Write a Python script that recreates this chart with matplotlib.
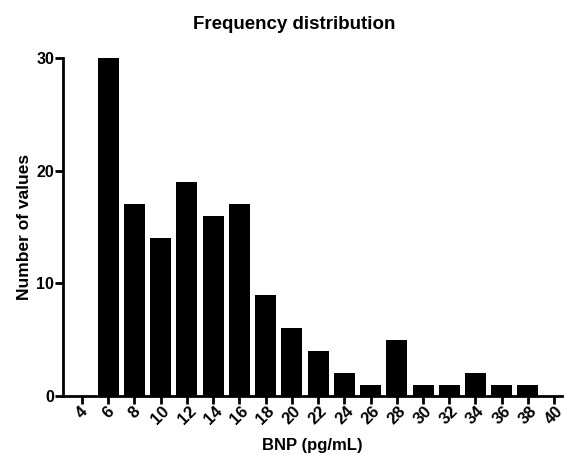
import matplotlib
matplotlib.use("Agg")
import matplotlib.pyplot as plt

bin_centers = [4, 6, 8, 10, 12, 14, 16, 18, 20, 22, 24, 26, 28, 30, 32, 34, 36, 38, 40]
counts = [0, 30, 17, 14, 19, 16, 17, 9, 6, 4, 2, 1, 5, 1, 1, 2, 1, 1, 0]
y_ticks = [0, 10, 20, 30]

plt.rcParams['font.family'] = ['Liberation Sans', 'DejaVu Sans']

fig = plt.figure(figsize=(5.66, 4.55), dpi=100)
ax = fig.add_axes([0.1113, 0.1297, 0.8817, 0.7428])

ax.bar(bin_centers, counts, width=1.6, color='black', edgecolor='black', linewidth=0)

ax.set_xlim(2.55, 40.6)
ax.set_ylim(0, 30)
ax.set_xticks(bin_centers)
ax.set_xticklabels([str(v) for v in bin_centers], rotation=45, ha='center',
                   fontsize=12, fontweight='bold')
ax.set_yticks(y_ticks)
ax.set_yticklabels([str(v) for v in y_ticks], fontsize=11.5, fontweight='bold')

for s in ['top', 'right']:
    ax.spines[s].set_visible(False)
for s in ['left', 'bottom']:
    ax.spines[s].set_linewidth(2)
    ax.spines[s].set_color('black')

ax.tick_params(axis='both', width=2, length=5.5, pad=1, color='black')
ax.tick_params(axis='x', pad=0)

ax.set_ylabel('Number of values', fontsize=12.5, fontweight='bold', labelpad=3)
ax.set_xlabel('BNP (pg/mL)', fontsize=12, fontweight='bold', labelpad=8)

fig.text(0.52, 0.947, 'Frequency distribution', ha='center', va='center',
         fontsize=13.5, fontweight='bold')

fig.savefig('out.png', dpi=100)
